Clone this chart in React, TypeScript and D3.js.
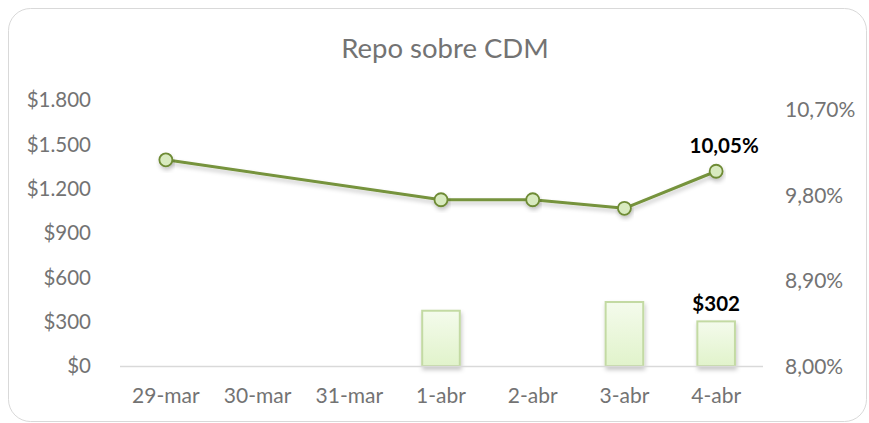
import React, { useRef, useEffect } from 'react';
import * as d3 from 'd3';

// Chart data.
const categories = ['29-mar', '30-mar', '31-mar', '1-abr', '2-abr', '3-abr', '4-abr'];
const montos: (number | null)[] = [null, null, null, 374, null, 433, 302];
const tasas: (number | null)[] = [10.17, null, null, 9.75, 9.75, 9.66, 10.05];
const leftTicks = [0, 300, 600, 900, 1200, 1500, 1800];
const rightTicks = [8.0, 8.9, 9.8, 10.7];

const W = 869;
const H = 423;
const FONT = 'Lato, "Open Sans", sans-serif';
const GRAY = '#737373';

const fmtMoney = (v: number) => '$' + d3.format(',')(v).replace(/,/g, '.');
const fmtPct = (v: number) => v.toFixed(2).replace('.', ',') + '%';

const App = () => {
  const ref = useRef<SVGSVGElement>(null);

  useEffect(() => {
    const svg = d3.select(ref.current);
    svg.selectAll('*').remove();

    const margin = { top: 100, right: 107, bottom: 57, left: 120 };
    const x0 = margin.left;
    const x1 = W - margin.right;
    const y0 = H - margin.bottom;
    const yTop = margin.top;

    const x = d3.scaleBand().domain(categories).range([x0, x1]).padding(0);
    const yL = d3.scaleLinear().domain([0, 1800]).range([y0, yTop]);
    const yR = d3.scaleLinear().domain([8.0, 10.8]).range([y0, yTop]);
    const barW = x.bandwidth() * 0.41;

    const defs = svg.append('defs');
    const grad = defs.append('linearGradient')
      .attr('id', 'barGrad').attr('x1', 0).attr('y1', 0).attr('x2', 0).attr('y2', 1);
    grad.append('stop').attr('offset', '0%').attr('stop-color', '#f4fbec');
    grad.append('stop').attr('offset', '100%').attr('stop-color', '#e1f3cb');

    const shadow = defs.append('filter').attr('id', 'shadow')
      .attr('x', '-20%').attr('y', '-50%').attr('width', '140%').attr('height', '200%');
    shadow.append('feDropShadow')
      .attr('dx', 1).attr('dy', 3).attr('stdDeviation', 2)
      .attr('flood-color', '#000').attr('flood-opacity', 0.22);

    // chart frame
    svg.append('rect')
      .attr('x', 8.5).attr('y', 8.5)
      .attr('width', W - 11).attr('height', H - 10)
      .attr('rx', 22).attr('ry', 22)
      .attr('fill', '#fff').attr('stroke', '#d9d9d9');

    // title
    svg.append('text')
      .attr('x', (x0 + x1) / 2 + 4).attr('y', 58)
      .attr('text-anchor', 'middle')
      .style('font-family', FONT).style('font-size', '27.5px')
      .attr('fill', GRAY)
      .text('Repo sobre CDM');

    // left axis labels
    svg.append('g').selectAll('text')
      .data(leftTicks).join('text')
      .attr('x', 91).attr('y', d => yL(d))
      .attr('dy', '0.36em')
      .attr('text-anchor', 'end')
      .style('font-family', FONT).style('font-size', '20.5px')
      .attr('fill', GRAY)
      .text(d => fmtMoney(d));

    // right axis labels
    svg.append('g').selectAll('text')
      .data(rightTicks).join('text')
      .attr('x', 785).attr('y', d => yR(d))
      .attr('dy', '0.36em')
      .attr('text-anchor', 'start')
      .style('font-family', FONT).style('font-size', '21px')
      .attr('fill', GRAY)
      .text(d => fmtPct(d));

    // category labels
    svg.append('g').selectAll('text')
      .data(categories).join('text')
      .attr('x', d => (x(d) as number) + x.bandwidth() / 2)
      .attr('y', y0 + 37)
      .attr('text-anchor', 'middle')
      .style('font-family', FONT).style('font-size', '21px')
      .attr('fill', GRAY)
      .text(d => d);

    // bars
    const barData = categories
      .map((c, i) => ({ c, v: montos[i] }))
      .filter(d => d.v !== null) as { c: string; v: number }[];
    svg.append('g').selectAll('rect')
      .data(barData).join('rect')
      .attr('x', d => (x(d.c) as number) + (x.bandwidth() - barW) / 2)
      .attr('y', d => yL(d.v))
      .attr('width', barW)
      .attr('height', d => y0 - yL(d.v))
      .attr('fill', 'url(#barGrad)')
      .attr('stroke', '#c3daa3').attr('stroke-width', 2)
      .attr('filter', 'url(#shadow)');

    // x axis line
    svg.append('line')
      .attr('x1', x0).attr('x2', x1 + 1)
      .attr('y1', y0 + 0.5).attr('y2', y0 + 0.5)
      .attr('stroke', '#d9d9d9').attr('stroke-width', 1.5);

    // line series (gaps bridged)
    const lineData = categories
      .map((c, i) => ({ c, v: tasas[i] }))
      .filter(d => d.v !== null) as { c: string; v: number }[];
    const cx = (c: string) => (x(c) as number) + x.bandwidth() / 2;
    const line = d3.line<{ c: string; v: number }>()
      .x(d => cx(d.c)).y(d => yR(d.v));
    svg.append('path')
      .datum(lineData)
      .attr('d', line)
      .attr('fill', 'none')
      .attr('stroke', '#76933c').attr('stroke-width', 3)
      .attr('stroke-linejoin', 'round')
      .attr('filter', 'url(#shadow)');

    svg.append('g').selectAll('circle')
      .data(lineData).join('circle')
      .attr('cx', d => cx(d.c)).attr('cy', d => yR(d.v))
      .attr('r', 6.5)
      .attr('fill', '#d8eabf')
      .attr('stroke', '#6e8b35').attr('stroke-width', 1.8)
      .attr('filter', 'url(#shadow)');

    // data labels on last point
    const lastC = categories[categories.length - 1];
    const lastRate = tasas[tasas.length - 1] as number;
    const lastAmt = montos[montos.length - 1] as number;
    svg.append('text')
      .attr('x', cx(lastC) + 8).attr('y', yR(lastRate) - 18)
      .attr('text-anchor', 'middle')
      .style('font-family', FONT).style('font-size', '20.5px').style('font-weight', 'bold')
      .attr('fill', '#000')
      .text(fmtPct(lastRate));
    svg.append('text')
      .attr('x', cx(lastC)).attr('y', yL(lastAmt) - 10)
      .attr('text-anchor', 'middle')
      .style('font-family', FONT).style('font-size', '20.5px').style('font-weight', 'bold')
      .attr('fill', '#000')
      .text(fmtMoney(lastAmt));
  }, []);

  return (
    <svg
      ref={ref}
      width={W}
      height={H}
      style={{ position: 'absolute', left: 0, top: 0, display: 'block' }}
    />
  );
};

export default App;
